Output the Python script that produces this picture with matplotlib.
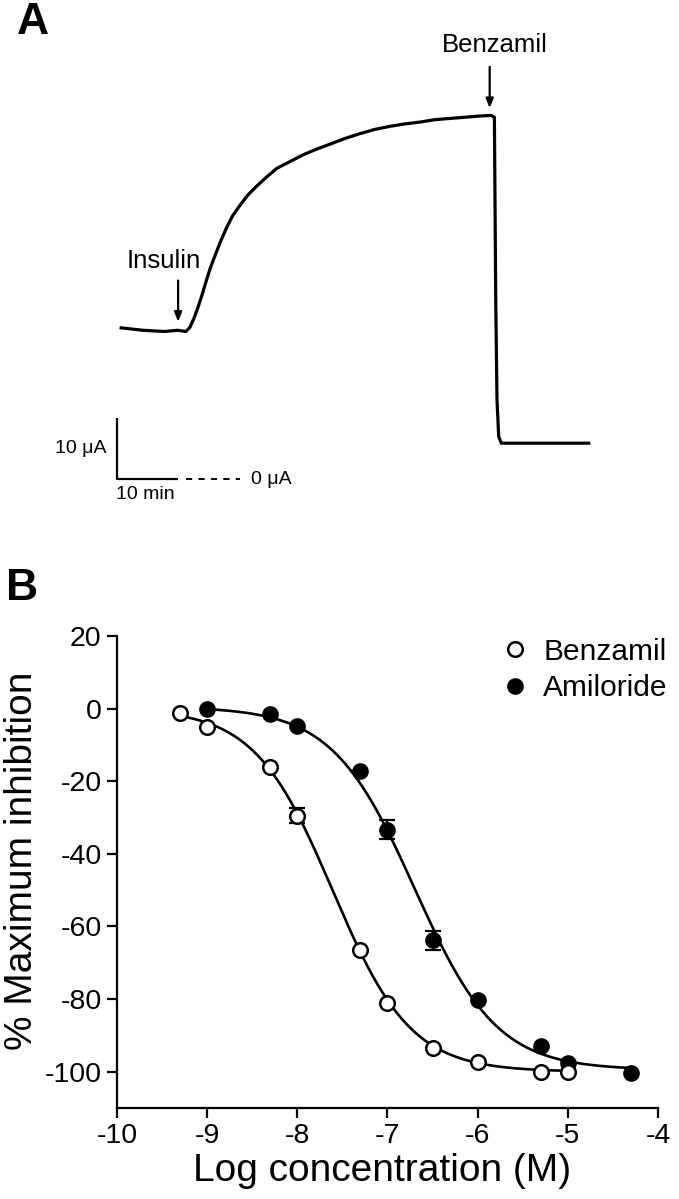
import numpy as np
import matplotlib
matplotlib.use("Agg")
import matplotlib.pyplot as plt

plt.rcParams['font.family'] = ['Liberation Sans', 'DejaVu Sans']

# ---------------- Panel A data (time in min, current in uA) ----------------
trace_t = [0.69, 4.28, 7.85, 10.0, 11.40, 12.07, 12.73, 13.39, 14.05, 14.71,
           15.37, 16.20, 17.02, 18.02, 19.01, 20.33, 21.65, 23.14, 24.79,
           26.45, 28.60, 30.74, 32.89, 35.04, 37.69, 40.17, 42.64, 45.12,
           47.60, 50.08, 52.56, 55.04, 57.52, 60.00, 61.82, 62.38, 62.60,
           62.81, 63.09, 63.52, 77.97]
trace_i = [24.9, 24.5, 24.3, 24.5, 24.3, 25.0, 26.5, 28.3, 30.3, 32.5,
           34.6, 36.8, 38.9, 41.2, 43.2, 45.1, 46.8, 48.3, 49.8,
           51.2, 52.3, 53.4, 54.3, 55.1, 56.1, 56.9, 57.6, 58.1,
           58.5, 58.8, 59.2, 59.4, 59.6, 59.8, 59.9, 59.6, 29.5,
           13.0, 7.0, 5.9, 5.9]
insulin_t = 10.1
benzamil_t = 61.6

# ---------------- Panel B data ----------------
benz_x = [-9.3, -9.0, -8.3, -8.0, -7.3, -7.0, -6.5, -6.0, -5.3, -5.0]
benz_y = [-1.1, -5.1, -16.0, -29.5, -66.6, -81.2, -93.4, -97.2, -100.0, -100.0]
benz_err = [0, 0, 0, 2.0, 0, 0, 0, 0, 0, 0]

amil_x = [-9.0, -8.3, -8.0, -7.3, -7.0, -6.5, -6.0, -5.3, -5.0, -4.3]
amil_y = [0.0, -1.35, -4.7, -17.1, -33.4, -63.8, -80.3, -93.0, -97.5, -100.3]
amil_err = [0, 0, 0, 0, 2.6, 2.6, 0, 0, 0, 0]

# sigmoidal fit parameters (top, bottom, logIC50, hill)
benz_fit = (0.0, -100.0, -7.61, 1.0)
amil_fit = (0.5, -99.5, -6.70, 0.95)

x_ticks = [-10, -9, -8, -7, -6, -5, -4]
y_ticks = [20, 0, -20, -40, -60, -80, -100]

W, H = 679, 1199
fig = plt.figure(figsize=(W / 100, H / 100), dpi=100)

def fx(px):
    return px / W

def fy(py):
    return 1 - py / H

# ================= Panel A =================
axA_top, axA_bot = 0, 520
axA = fig.add_axes([0, fy(axA_bot), 1, (axA_bot - axA_top) / H])
px_per_min = 6.05
px_per_uA = 6.07
x0_px, y0_px = 117, 479
axA.set_xlim((0 - x0_px) / px_per_min, (W - x0_px) / px_per_min)
axA.set_ylim((y0_px - axA_bot) / px_per_uA, (y0_px - axA_top) / px_per_uA)
axA.axis('off')

axA.plot(trace_t, trace_i, color='black', lw=2.3, solid_joinstyle='round')

# scale bar: 10 uA vertical, 10 min horizontal
axA.plot([0, 0, 10], [10, 0, 0], color='black', lw=1.6, solid_capstyle='butt')
axA.plot([11.4, 20.4], [0, 0], color='black', lw=1.4, ls=(0, (3.2, 3.2)))
axA.text(22.2, 0, '0 \u03bcA', ha='left', va='center', fontsize=14)
axA.text(-1.8, 5.1, '10 \u03bcA', ha='right', va='center', fontsize=14)
axA.text(-0.2, -2.6, '10 min', ha='left', va='center', fontsize=14)

# arrows
axA.annotate('', xy=(insulin_t, 25.9), xytext=(insulin_t, 32.7),
             arrowprops=dict(arrowstyle='-|>,head_length=0.55,head_width=0.22',
                             color='black', lw=1.6, shrinkA=0, shrinkB=0))
axA.text(7.7, 35.9, 'Insulin', ha='center', va='center', fontsize=18.5)
axA.annotate('', xy=(benzamil_t, 61.1), xytext=(benzamil_t, 67.9),
             arrowprops=dict(arrowstyle='-|>,head_length=0.55,head_width=0.22',
                             color='black', lw=1.6, shrinkA=0, shrinkB=0))
axA.text(62.4, 71.5, 'Benzamil', ha='center', va='center', fontsize=18.5)

fig.text(fx(17), fy(2), 'A', ha='left', va='top', fontsize=32, fontweight='bold')

# ================= Panel B =================
left_px, right_px, top_px, bot_px = 117, 658, 636, 1108
axB = fig.add_axes([fx(left_px), fy(bot_px), (right_px - left_px) / W, (bot_px - top_px) / H])
axB.set_xlim(-10, -4)
axB.set_ylim(-110, 20)

def logistic(x, p):
    top, bottom, logic50, hill = p
    return bottom + (top - bottom) / (1 + 10 ** ((x - logic50) * hill))

xb = np.linspace(min(benz_x), max(benz_x), 400)
xa = np.linspace(min(amil_x), max(amil_x), 400)
axB.plot(xb, logistic(xb, benz_fit), color='black', lw=1.9, zorder=2)
axB.plot(xa, logistic(xa, amil_fit), color='black', lw=1.9, zorder=2)

eb_b = [e if e > 0 else np.nan for e in benz_err]
eb_a = [e if e > 0 else np.nan for e in amil_err]
axB.errorbar(benz_x, benz_y, yerr=eb_b, fmt='none', ecolor='black', elinewidth=1.6,
             capsize=6, capthick=1.6, zorder=3)
axB.errorbar(amil_x, amil_y, yerr=eb_a, fmt='none', ecolor='black', elinewidth=1.6,
             capsize=6, capthick=1.6, zorder=3)
axB.plot(amil_x, amil_y, 'o', ms=10.5, mfc='black', mec='black', mew=1.5,
         label='Amiloride', zorder=4)
axB.plot(benz_x, benz_y, 'o', ms=10.5, mfc='white', mec='black', mew=1.8,
         label='Benzamil', zorder=5)

for s in ['top', 'right']:
    axB.spines[s].set_visible(False)
for s in ['left', 'bottom']:
    axB.spines[s].set_linewidth(1.6)
axB.spines['left'].set_bounds(-110, 20)

axB.set_xticks(x_ticks)
axB.set_xticklabels([str(v) for v in x_ticks])
axB.set_yticks(y_ticks)
axB.set_yticklabels([str(v) for v in y_ticks])
axB.tick_params(direction='out', length=7, width=1.6, labelsize=20.5, pad=4)

handles, labels = axB.get_legend_handles_labels()
order = [labels.index('Benzamil'), labels.index('Amiloride')]
leg = axB.legend([handles[i] for i in order], [labels[i] for i in order],
                 loc='center left', bbox_to_anchor=(fx(500), fy(670)),
                 bbox_transform=fig.transFigure, frameon=False, fontsize=21.5,
                 handlelength=1.0, handletextpad=0.45, labelspacing=0.3,
                 borderpad=0, borderaxespad=0, numpoints=1)

fig.text(fx(382), fy(1171), 'Log concentration (M)', ha='center', va='center', fontsize=28)
fig.text(fx(22), fy(861), '% Maximum inhibition', ha='center', va='center',
         fontsize=28, rotation=90)

fig.text(fx(6), fy(568), 'B', ha='left', va='top', fontsize=32, fontweight='bold')

fig.savefig('out.png', dpi=100)
